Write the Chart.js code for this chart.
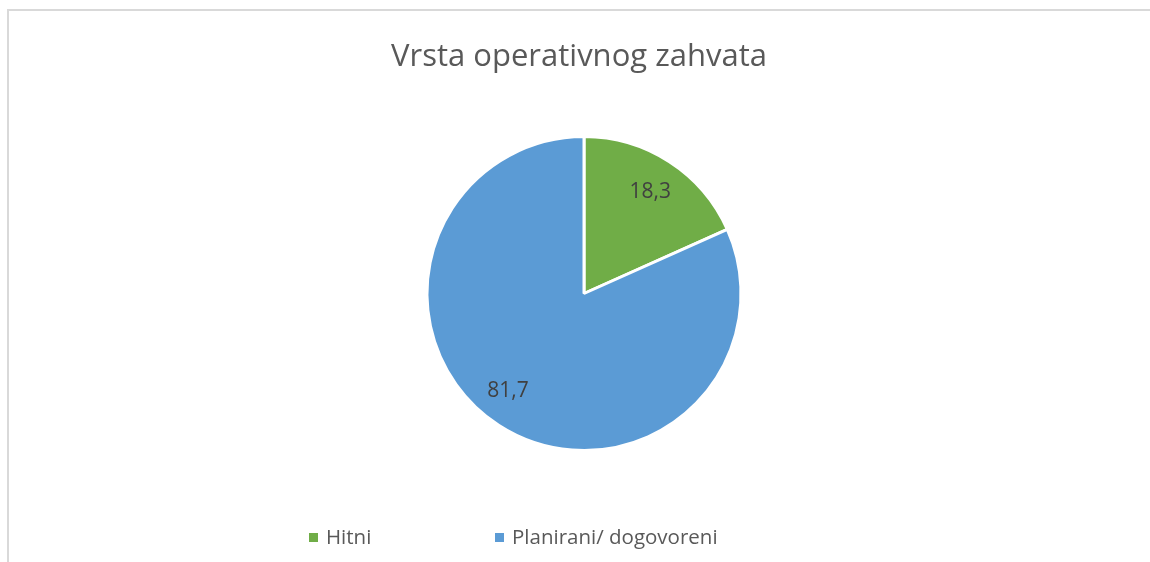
<!DOCTYPE html>
<html>
<head>
<meta charset="utf-8">
<script src="https://cdn.jsdelivr.net/npm/chart.js@4.4.1/dist/chart.umd.min.js"></script>
<style>
  html, body { margin: 0; padding: 0; background: #ffffff; }
  #wrap { position: relative; width: 1150px; height: 562px; overflow: hidden; }
  #frame { position: absolute; left: 7px; top: 9px; width: 1200px; height: 600px;
           border-left: 2px solid #d9d9d9; border-top: 2px solid #d9d9d9; box-sizing: border-box; }
  canvas { position: absolute; left: 0; top: 0; }
</style>
</head>
<body>
<div id="wrap">
  <div id="frame"></div>
  <canvas id="c" width="1150" height="562"></canvas>
</div>
<script>
const chartTitle = "Vrsta operativnog zahvata";
const categories = ["Hitni", "Planirani/ dogovoreni"];
const values = [18.3, 81.7];
const valueLabels = ["18,3", "81,7"];
const colors = ["#70ad47", "#5b9bd5"];

const FONT = "'Open Sans', 'Noto Sans', 'DejaVu Sans', sans-serif";

const overlay = {
  id: 'overlay',
  afterDatasetsDraw(chart) {
    const ctx = chart.ctx;
    const meta = chart.getDatasetMeta(0);
    ctx.save();
    ctx.fillStyle = '#404040';
    ctx.font = "21px " + FONT;
    ctx.textAlign = 'center';
    ctx.textBaseline = 'middle';
    const angleAdj = [0, 0.09];
    const distF = [0.775, 0.785];
    meta.data.forEach((arc, i) => {
      const p = arc.getProps(['x', 'y', 'startAngle', 'endAngle', 'outerRadius'], true);
      const mid = (p.startAngle + p.endAngle) / 2 + angleAdj[i];
      const r = p.outerRadius * distF[i];
      ctx.fillText(valueLabels[i], p.x + Math.cos(mid) * r, p.y + Math.sin(mid) * r + 1);
    });
    ctx.restore();
  },
  afterDraw(chart) {
    const ctx = chart.ctx;
    ctx.save();
    ctx.fillStyle = '#595959';
    ctx.font = "31px " + FONT;
    ctx.textAlign = 'center';
    ctx.textBaseline = 'alphabetic';
    ctx.fillText(chartTitle, 579, 66);
    ctx.font = "20.5px " + FONT;
    ctx.textAlign = 'left';
    ctx.textBaseline = 'middle';
    const starts = [309, 495];
    categories.forEach((name, i) => {
      ctx.fillStyle = colors[i];
      ctx.fillRect(starts[i], 533, 9, 9);
      ctx.fillStyle = '#595959';
      ctx.fillText(name, starts[i] + 17, 538);
    });
    ctx.restore();
  }
};

new Chart(document.getElementById('c'), {
  type: 'pie',
  data: {
    labels: categories,
    datasets: [{
      data: values,
      backgroundColor: colors,
      borderColor: '#ffffff',
      borderWidth: 3,
      hoverOffset: 0,
      radius: 157
    }]
  },
  options: {
    responsive: false,
    devicePixelRatio: 1,
    animation: false,
    layout: { padding: { top: 137, bottom: 112, left: 18, right: 0 } },
    plugins: {
      legend: { display: false },
      title: { display: false },
      tooltip: { enabled: false }
    }
  },
  plugins: [overlay]
});
</script>
</body>
</html>
